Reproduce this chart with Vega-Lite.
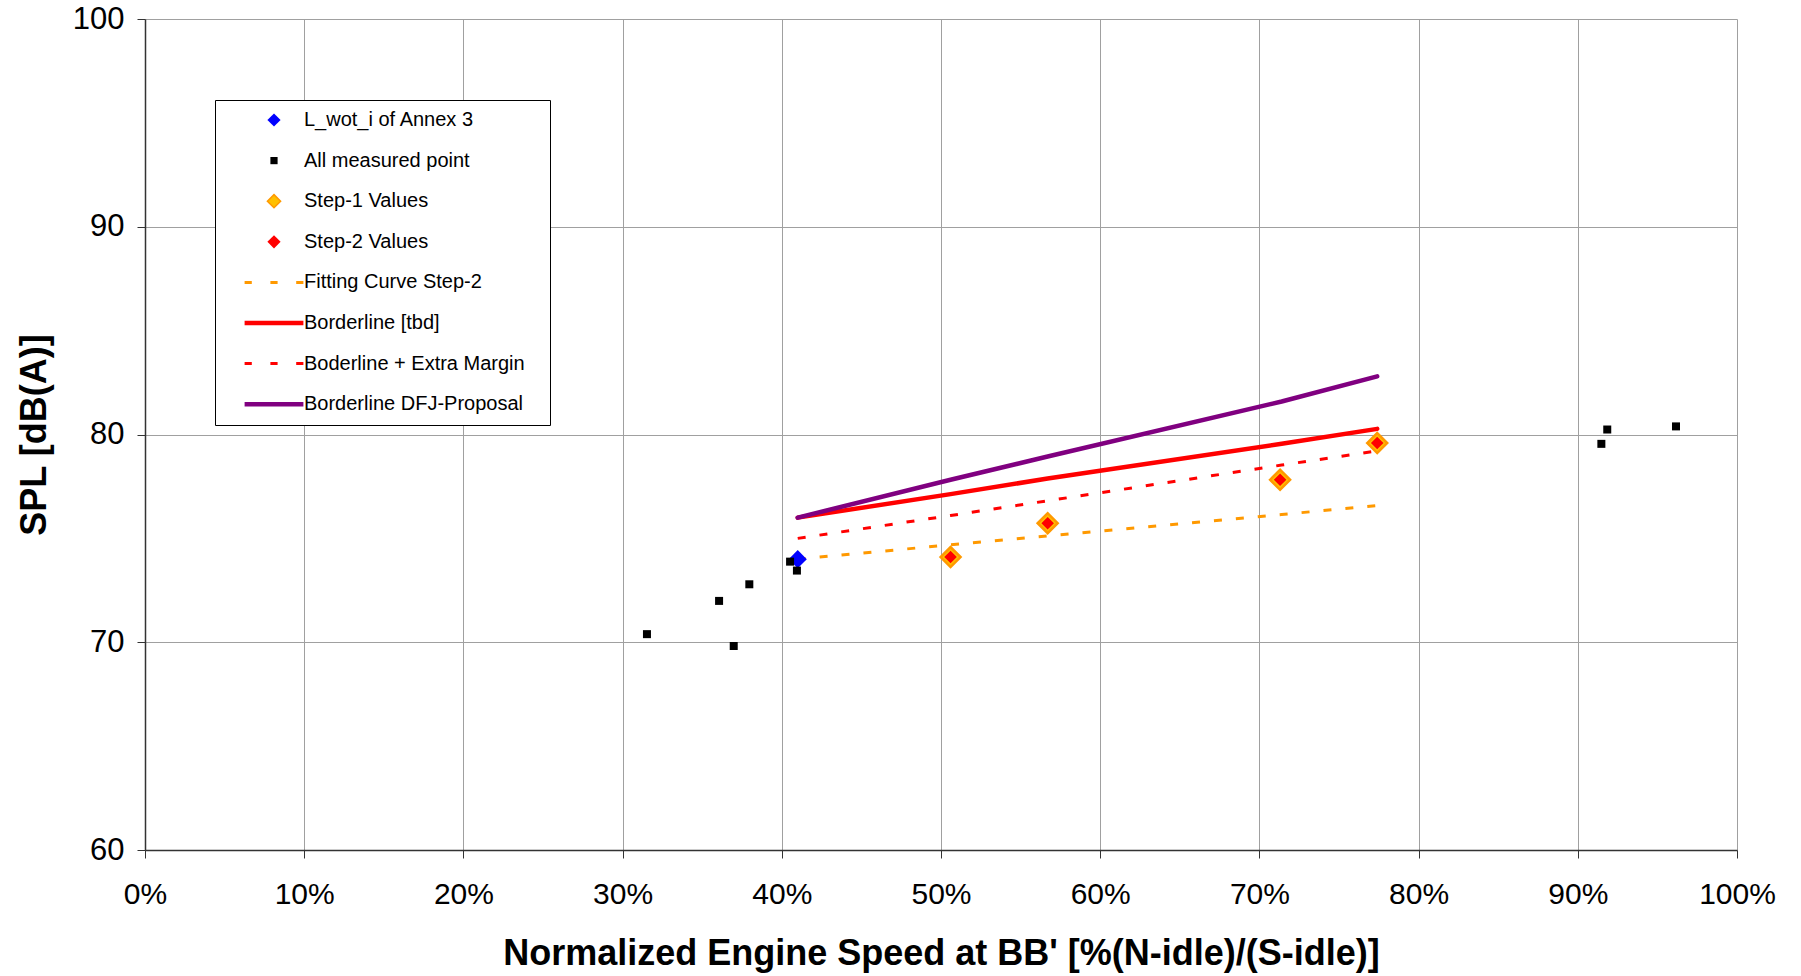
{
  "$schema": "https://vega.github.io/schema/vega-lite/v6.json",
  "width": 1592,
  "height": 831,
  "autosize": "none",
  "padding": {"left": 145, "top": 19, "right": 64, "bottom": 126},
  "background": "white",
  "config": {
    "view": {"stroke": null},
    "font": "Liberation Sans",
    "legend": {
      "direction": "vertical",
      "strokeColor": "black", "fillColor": "white", "padding": 10, "cornerRadius": 0,
      "labelFont": "Liberation Sans", "labelFontSize": 20, "labelColor": "black", "labelLimit": 500,
      "symbolSize": 144, "symbolOffset": 39, "labelOffset": 20, "rowPadding": 20.6,
      "titleOrient": "right", "titlePadding": 15, "titleFontSize": 20, "titleFont": "Liberation Sans"
    }
  },
  "datasets": {
    "lines": [
      {"series": "Fitting Curve Step-2", "x": 0.41, "y": 74.0},
      {"series": "Fitting Curve Step-2", "x": 0.506, "y": 74.69},
      {"series": "Fitting Curve Step-2", "x": 0.567, "y": 75.12},
      {"series": "Fitting Curve Step-2", "x": 0.714, "y": 76.15},
      {"series": "Fitting Curve Step-2", "x": 0.774, "y": 76.58},
      {"series": "Borderline [tbd]", "x": 0.41, "y": 76.0},
      {"series": "Borderline [tbd]", "x": 0.506, "y": 77.13},
      {"series": "Borderline [tbd]", "x": 0.567, "y": 77.88},
      {"series": "Borderline [tbd]", "x": 0.714, "y": 79.55},
      {"series": "Borderline [tbd]", "x": 0.774, "y": 80.27},
      {"series": "Boderline + Extra Margin", "x": 0.41, "y": 75.0},
      {"series": "Boderline + Extra Margin", "x": 0.506, "y": 76.1},
      {"series": "Boderline + Extra Margin", "x": 0.567, "y": 76.81},
      {"series": "Boderline + Extra Margin", "x": 0.714, "y": 78.53},
      {"series": "Boderline + Extra Margin", "x": 0.774, "y": 79.21},
      {"series": "Borderline DFJ-Proposal", "x": 0.41, "y": 76.0},
      {"series": "Borderline DFJ-Proposal", "x": 0.506, "y": 77.82},
      {"series": "Borderline DFJ-Proposal", "x": 0.567, "y": 78.94},
      {"series": "Borderline DFJ-Proposal", "x": 0.714, "y": 81.59},
      {"series": "Borderline DFJ-Proposal", "x": 0.774, "y": 82.8}
    ],
    "pts": [
      {"series": "L_wot_i of Annex 3", "x": 0.41, "y": 74.0},
      {"series": "All measured point", "x": 0.3153, "y": 70.39},
      {"series": "All measured point", "x": 0.3606, "y": 71.99},
      {"series": "All measured point", "x": 0.3698, "y": 69.82},
      {"series": "All measured point", "x": 0.3796, "y": 72.79},
      {"series": "All measured point", "x": 0.4052, "y": 73.88},
      {"series": "All measured point", "x": 0.4095, "y": 73.45},
      {"series": "All measured point", "x": 0.9148, "y": 79.55},
      {"series": "All measured point", "x": 0.9185, "y": 80.24},
      {"series": "All measured point", "x": 0.9617, "y": 80.39},
      {"series": "Step-1 Values", "x": 0.506, "y": 74.1},
      {"series": "Step-1 Values", "x": 0.567, "y": 75.73},
      {"series": "Step-1 Values", "x": 0.713, "y": 77.82},
      {"series": "Step-1 Values", "x": 0.774, "y": 79.59},
      {"series": "Step-2 Values", "x": 0.506, "y": 74.1},
      {"series": "Step-2 Values", "x": 0.567, "y": 75.73},
      {"series": "Step-2 Values", "x": 0.713, "y": 77.82},
      {"series": "Step-2 Values", "x": 0.774, "y": 79.59}
    ]
  },
  "encoding": {
    "x": {
      "field": "x", "type": "quantitative",
      "scale": {"domain": [0, 1], "nice": false, "zero": false},
      "axis": {
        "title": "Normalized Engine Speed at BB' [%(N-idle)/(S-idle)]",
        "format": ".0%",
        "values": [0, 0.1, 0.2, 0.3, 0.4, 0.5, 0.6, 0.7, 0.8, 0.9, 1],
        "grid": true, "gridColor": "#a0a0a0", "gridWidth": 1,
        "domainColor": "#333333", "domainWidth": 1.5,
        "tickColor": "#333333", "tickSize": 8, "tickWidth": 1,
        "labelFont": "Liberation Sans", "labelFontSize": 30, "labelPadding": 21,
        "labelColor": "black", "labelFlush": false, "labelOverlap": false,
        "titleFont": "Liberation Sans", "titleFontWeight": "bold", "titleFontSize": 36,
        "titleColor": "black", "titleBaseline": "middle", "titleY": 103
      }
    },
    "y": {
      "field": "y", "type": "quantitative",
      "scale": {"domain": [60, 100], "nice": false, "zero": false},
      "axis": {
        "title": "SPL [dB(A)]",
        "values": [60, 70, 80, 90, 100],
        "grid": true, "gridColor": "#a0a0a0", "gridWidth": 1,
        "domainColor": "#333333", "domainWidth": 1.5,
        "tickColor": "#333333", "tickSize": 8, "tickWidth": 1,
        "labelFont": "Liberation Sans", "labelFontSize": 31, "labelPadding": 13,
        "labelColor": "black", "labelFlush": false, "labelOverlap": false,
        "titleFont": "Liberation Sans", "titleFontWeight": "bold", "titleFontSize": 36,
        "titleColor": "black", "titleBaseline": "middle", "titleAngle": -90, "titleX": -111
      }
    }
  },
  "layer": [
    {
      "data": {"name": "lines"},
      "transform": [{"filter": "datum.series === 'Fitting Curve Step-2'"}],
      "mark": {"type": "line", "color": "#ff9900", "strokeWidth": 3, "strokeDash": [8, 14], "strokeCap": "butt"}
    },
    {
      "data": {"name": "lines"},
      "transform": [{"filter": "datum.series === 'Boderline + Extra Margin'"}],
      "mark": {"type": "line", "color": "#ff0000", "strokeWidth": 3, "strokeDash": [8, 14], "strokeCap": "butt"}
    },
    {
      "data": {"name": "lines"},
      "transform": [{"filter": "datum.series === 'Borderline [tbd]'"}],
      "mark": {"type": "line", "color": "#ff0000", "strokeWidth": 4.5, "strokeCap": "round", "strokeJoin": "round"}
    },
    {
      "data": {"name": "lines"},
      "transform": [{"filter": "datum.series === 'Borderline DFJ-Proposal'"}],
      "mark": {"type": "line", "color": "#800080", "strokeWidth": 4.5, "strokeCap": "round", "strokeJoin": "round"}
    },
    {
      "data": {"name": "pts"},
      "transform": [{"filter": "datum.series === 'L_wot_i of Annex 3'"}],
      "mark": {"type": "point", "shape": "diamond", "filled": true, "color": "#0000ff", "size": 330, "opacity": 1}
    },
    {
      "data": {"name": "pts"},
      "transform": [{"filter": "datum.series === 'All measured point'"}],
      "mark": {"type": "point", "shape": "square", "filled": true, "color": "#000000", "size": 64, "opacity": 1}
    },
    {
      "data": {"name": "pts"},
      "transform": [{"filter": "datum.series === 'Step-1 Values'"}],
      "mark": {"type": "point", "shape": "diamond", "filled": true, "fill": "#ffc000", "size": 400, "opacity": 1, "stroke": "#ff9900", "strokeWidth": 2.5}
    },
    {
      "data": {"name": "pts"},
      "transform": [{"filter": "datum.series === 'Step-2 Values'"}],
      "mark": {"type": "point", "size": 130, "opacity": 1},
      "encoding": {
        "shape": {
          "field": "series", "type": "nominal",
          "scale": {
            "domain": ["L_wot_i of Annex 3", "All measured point", "Step-1 Values", "Step-2 Values", "Fitting Curve Step-2", "Borderline [tbd]", "Boderline + Extra Margin", "Borderline DFJ-Proposal"],
            "range": ["M0,-1.1L1.1,0L0,1.1L-1.1,0Z", "M-0.6,-0.6H0.6V0.6H-0.6Z", "M0,-1.1L1.1,0L0,1.1L-1.1,0Z", "M0,-1.1L1.1,0L0,1.1L-1.1,0Z", "M-4.9,0H-3.7M-0.6,0H0.6M3.7,0H4.9", "M-4.9,0H4.9", "M-4.9,0H-3.7M-0.6,0H0.6M3.7,0H4.9", "M-4.9,0H4.9"]
          },
          "legend": {"title": "\u00a0", "orient": "none", "legendX": 70, "legendY": 81}
        },
        "fill": {
          "field": "series", "type": "nominal",
          "scale": {
            "domain": ["L_wot_i of Annex 3", "All measured point", "Step-1 Values", "Step-2 Values", "Fitting Curve Step-2", "Borderline [tbd]", "Boderline + Extra Margin", "Borderline DFJ-Proposal"],
            "range": ["#0000ff", "#000000", "#ffc000", "#ff0000", "transparent", "transparent", "transparent", "transparent"]
          },
          "legend": {"title": "\u00a0", "orient": "none", "legendX": 70, "legendY": 81}
        },
        "stroke": {
          "field": "series", "type": "nominal",
          "scale": {
            "domain": ["L_wot_i of Annex 3", "All measured point", "Step-1 Values", "Step-2 Values", "Fitting Curve Step-2", "Borderline [tbd]", "Boderline + Extra Margin", "Borderline DFJ-Proposal"],
            "range": ["transparent", "transparent", "#ff9900", "transparent", "#ff9900", "#ff0000", "#ff0000", "#800080"]
          },
          "legend": {"title": "\u00a0", "orient": "none", "legendX": 70, "legendY": 81}
        },
        "strokeWidth": {
          "field": "series", "type": "nominal",
          "scale": {
            "type": "ordinal",
            "domain": ["L_wot_i of Annex 3", "All measured point", "Step-1 Values", "Step-2 Values", "Fitting Curve Step-2", "Borderline [tbd]", "Boderline + Extra Margin", "Borderline DFJ-Proposal"],
            "range": [0, 0, 1.5, 0, 3, 4.5, 3, 4.5]
          },
          "legend": {"title": "\u00a0", "orient": "none", "legendX": 70, "legendY": 81}
        }
      }
    }
  ]
}
